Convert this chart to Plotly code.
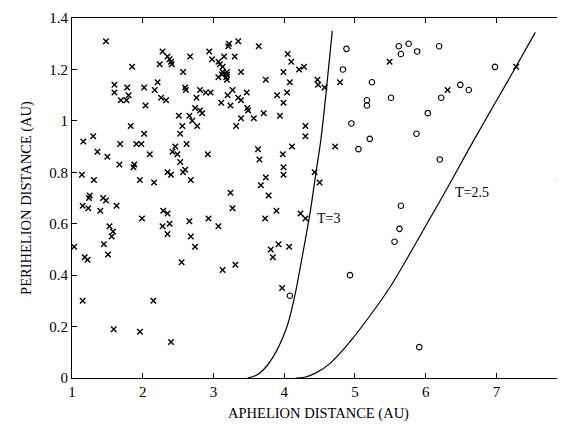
import plotly.graph_objects as go

# Asteroid-type objects ("x") : aphelion Q (AU), perihelion q (AU)
x_Q = [1.48, 2.28, 2.35, 2.38, 2.40, 2.41, 2.67, 2.94, 2.98, 3.07, 1.85, 2.24, 2.57, 3.07,
       1.60, 1.60, 1.78, 2.02, 2.21, 2.17, 2.26, 2.33, 2.60, 2.61, 2.81, 2.89, 2.96, 2.76,
       1.80, 1.69, 1.77, 2.04, 2.74, 2.81, 2.84, 2.51, 2.56, 2.66, 2.70, 2.77, 1.83, 2.02,
       2.53, 1.16, 1.30, 1.68, 1.91, 1.98, 2.46, 2.62, 1.36, 1.50, 2.10, 2.42, 2.49, 2.92,
       1.67, 1.88, 1.87, 2.53, 1.14, 1.31, 1.96, 2.16, 2.35, 2.40, 2.57, 2.60, 2.68, 1.25,
       1.24, 1.15, 1.23, 1.44, 1.48, 1.63, 1.40, 2.29, 2.35, 1.99, 2.66, 2.93, 2.28, 2.38,
       3.07, 1.53, 1.58, 1.56, 2.35, 2.68, 1.45, 1.03, 2.74, 1.51, 1.18, 1.22, 2.55, 1.15,
       1.59, 1.96, 2.15, 2.40, 3.22, 3.21, 3.35, 3.64, 3.15, 3.30, 3.09, 3.13, 3.13, 3.19,
       3.12, 3.19, 3.18, 3.19, 3.39, 3.74, 4.05, 4.10, 4.21, 4.28, 3.99, 4.08, 4.47, 4.48,
       4.57, 4.79, 3.20, 3.27, 3.35, 3.39, 3.47, 3.11, 3.24, 3.90, 4.04, 3.99, 3.48, 3.49,
       3.39, 3.32, 3.57, 3.71, 3.94, 4.30, 4.30, 3.63, 4.11, 4.72, 3.65, 3.98, 3.99, 3.99,
       3.74, 3.67, 3.78, 3.24, 3.27, 3.89, 3.73, 4.23, 4.30, 4.43, 4.50, 3.92, 4.07, 3.81,
       3.84, 3.13, 3.31, 3.97, 5.49, 6.31, 7.28, 7.95]
x_q = [1.31, 1.27, 1.25, 1.24, 1.23, 1.22, 1.25, 1.27, 1.24, 1.23, 1.21, 1.22, 1.19, 1.17,
       1.14, 1.11, 1.13, 1.13, 1.15, 1.12, 1.09, 1.08, 1.13, 1.12, 1.12, 1.11, 1.11, 1.09,
       1.10, 1.08, 1.08, 1.06, 1.05, 1.04, 1.03, 1.02, 0.98, 1.02, 1.00, 0.98, 0.98, 0.95,
       0.95, 0.92, 0.94, 0.91, 0.91, 0.91, 0.90, 0.91, 0.88, 0.86, 0.87, 0.88, 0.87, 0.87,
       0.83, 0.83, 0.82, 0.84, 0.79, 0.77, 0.77, 0.76, 0.80, 0.79, 0.80, 0.81, 0.77, 0.71,
       0.70, 0.67, 0.66, 0.70, 0.69, 0.67, 0.65, 0.65, 0.64, 0.62, 0.61, 0.62, 0.59, 0.60,
       0.59, 0.59, 0.57, 0.55, 0.56, 0.55, 0.52, 0.51, 0.51, 0.48, 0.47, 0.46, 0.45, 0.30,
       0.19, 0.18, 0.30, 0.14, 1.30, 1.29, 1.31, 1.29, 1.25, 1.25, 1.22, 1.21, 1.19, 1.19,
       1.18, 1.18, 1.17, 1.16, 1.19, 1.16, 1.26, 1.23, 1.20, 1.21, 1.19, 1.15, 1.16, 1.14,
       1.13, 1.15, 1.10, 1.12, 1.09, 1.08, 1.11, 1.07, 1.06, 1.10, 1.11, 1.07, 1.05, 1.04,
       1.01, 0.98, 1.01, 1.03, 1.02, 0.98, 0.94, 0.89, 0.90, 0.90, 0.85, 0.87, 0.82, 0.79,
       0.78, 0.75, 0.71, 0.72, 0.66, 0.65, 0.62, 0.64, 0.62, 0.80, 0.76, 0.52, 0.51, 0.50,
       0.47, 0.42, 0.44, 0.35, 1.23, 1.12, 1.21, 0.43]

# Comet-type objects ("o")
o_Q = [4.88, 4.83, 4.95, 5.05, 5.62, 5.76, 5.65, 5.88, 6.19, 5.24, 5.17, 5.17, 5.51, 6.49,
       6.61, 6.22, 6.03, 5.21, 5.87, 6.98, 6.20, 7.90, 5.65, 5.63, 5.56, 4.93, 4.08, 5.91]
o_q = [1.28, 1.20, 0.99, 0.89, 1.29, 1.30, 1.26, 1.27, 1.29, 1.15, 1.08, 1.06, 1.09, 1.14,
       1.12, 1.09, 1.03, 0.93, 0.95, 1.21, 0.85, 0.77, 0.67, 0.58, 0.53, 0.40, 0.32, 0.12]

# Tisserand curves
t3_Q = [3.48, 3.60, 3.70, 3.84, 4.04, 4.15, 4.22, 4.37, 4.45, 4.52, 4.60, 4.68]
t3_q = [0.00, 0.01, 0.03, 0.08, 0.20, 0.32, 0.42, 0.65, 0.80, 0.93, 1.13, 1.35]
t25_Q = [4.16, 4.30, 4.45, 4.65, 4.93, 5.22, 5.50, 5.78, 6.06, 6.35, 6.61, 6.91, 7.22, 7.55]
t25_q = [0.00, 0.004, 0.02, 0.057, 0.141, 0.245, 0.355, 0.485, 0.620, 0.760, 0.890, 1.035, 1.183, 1.344]

x_ticks = [1, 2, 3, 4, 5, 6, 7, 8]
y_ticks = [0, 0.2, 0.4, 0.6, 0.8, 1, 1.2, 1.4]

FONT = "Liberation Serif, Times New Roman, serif"

fig = go.Figure()
fig.add_trace(go.Scatter(x=t3_Q, y=t3_q, mode="lines", line=dict(color="black", width=1.2, shape="spline"),
                         hoverinfo="skip"))
fig.add_trace(go.Scatter(x=t25_Q, y=t25_q, mode="lines", line=dict(color="black", width=1.2, shape="spline"),
                         hoverinfo="skip"))
fig.add_trace(go.Scatter(x=x_Q, y=x_q, mode="markers",
                         marker=dict(symbol="x-thin", size=5.5, color="black", line=dict(width=1.4, color="black"))))
fig.add_trace(go.Scatter(x=o_Q, y=o_q, mode="markers",
                         marker=dict(symbol="circle-open", size=5.5, color="black", line=dict(width=1.1, color="black"))))
# empty helper trace for right-side tick axis
fig.add_trace(go.Scatter(x=[], y=[], yaxis="y2", showlegend=False))

fig.add_annotation(x=4.44, y=0.62, text="T=3", showarrow=False, xanchor="left", yanchor="middle",
                   font=dict(family=FONT, size=14, color="black"))
fig.add_annotation(x=6.39, y=0.72, text="T=2.5", showarrow=False, xanchor="left", yanchor="middle",
                   font=dict(family=FONT, size=14, color="black"))

axis_common = dict(showgrid=False, zeroline=False, showline=True, linecolor="black", linewidth=1,
                   ticks="inside", ticklen=5, tickcolor="black", tickwidth=1, automargin=False,
                   tickfont=dict(family=FONT, size=15, color="black"))

# page body has an 8px margin, so the figure is sized/offset to compensate
fig.update_layout(
    width=557, height=422,
    margin=dict(l=64, r=0, t=10, b=52),
    paper_bgcolor="white", plot_bgcolor="white",
    showlegend=False,
    font=dict(family=FONT, color="black"),
    xaxis=dict(range=[1, 7.97], tickvals=x_ticks, mirror="ticks",
               title=dict(text="APHELION DISTANCE (AU)", font=dict(family=FONT, size=14.5), standoff=8),
               **axis_common),
    yaxis=dict(range=[0, 1.4], tickvals=y_ticks, mirror=False,
               title=dict(text="PERIHELION DISTANCE (AU)", font=dict(family=FONT, size=14.5), standoff=14),
               **axis_common),
    yaxis2=dict(range=[0, 1.4], tickvals=y_ticks, overlaying="y", side="right", showgrid=False,
                zeroline=False, showline=False, ticks="inside", ticklen=5, tickcolor="black",
                showticklabels=False, automargin=False),
)

fig.write_html("out.html")
